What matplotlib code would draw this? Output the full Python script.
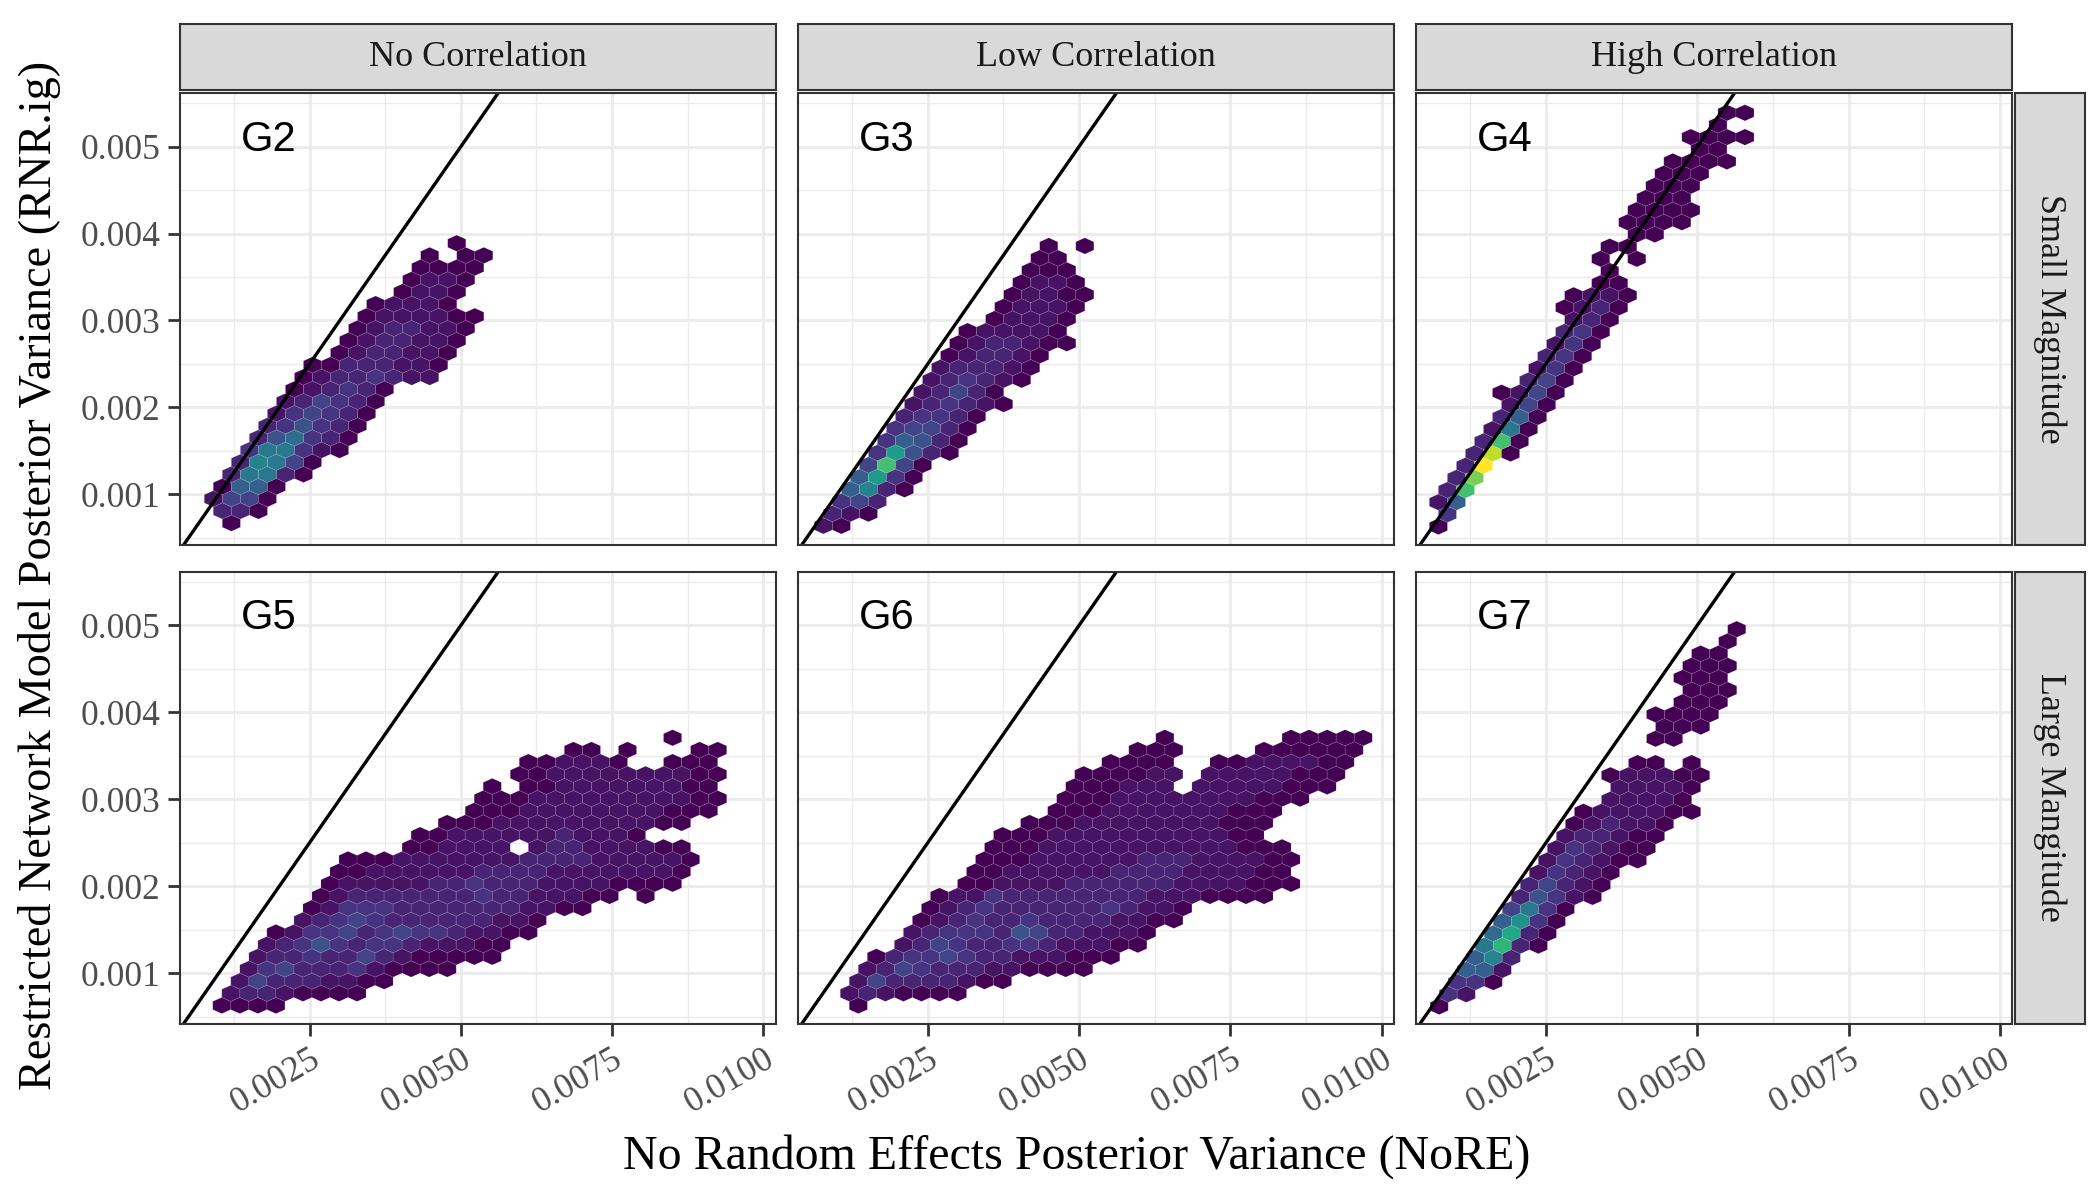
import numpy as np
import matplotlib
matplotlib.use("Agg")
import matplotlib.pyplot as plt

plt.rcParams["font.family"] = ["Liberation Serif", "DejaVu Serif"]

# hex bins
# each row: (hex row, first column, bin levels) ; "." = empty bin
# a level character stands for a count on the shared fill scale
LEVELS = "0123456789abcdefghijk"

G2_ROWS = [
    (0, 3, "0"), (1, 2, "220"), (2, 2, "1440"), (3, 2, "0660"),
    (4, 3, "28820"), (5, 3, "29840"), (6, 4, "388310"), (7, 4, "257320"),
    (8, 5, "235320"), (9, 5, "134320"), (10, 6, "124320"), (11, 6, "012320"),
    (12, 7, "01223211"), (13, 7, "00222110"), (14, 9, "0122110"),
    (15, 9, "0122110"), (16, 10, "0122110"), (17, 10, "0111100"),
    (18, 11, "01110"), (19, 12, "0110"), (20, 13, "0110"), (21, 13, "0000"),
    (22, 14, "0.00"), (23, 15, "0"),
]

G3_ROWS = [
    (0, 1, "10"), (1, 1, "210"), (2, 2, "342"), (3, 2, "6920"),
    (4, 3, "6b30"), (5, 3, "4e40"), (6, 4, "3b520"), (7, 4, "36520"),
    (8, 5, "34420"), (9, 5, "23320"), (10, 6, "123210"), (11, 6, "12420"),
    (12, 7, "123210"), (13, 7, "122210"), (14, 8, "012210"),
    (15, 8, "0122100"), (16, 9, "011110"), (17, 10, "01110"),
    (18, 11, "01110"), (19, 11, "01100"), (20, 12, "0110"), (21, 12, "000"),
    (22, 13, "00"), (23, 13, "0.0"),
]

G4_ROWS = [
    (0, 0, "0"), (1, 0, "3"), (2, 0, "16"), (3, 0, "2e"), (4, 1, "2g"),
    (5, 1, "2k"), (6, 2, "2i0"), (7, 2, "2e0"), (8, 3, "180"), (9, 3, "260"),
    (10, 4, "140"), (11, 3, "0140"), (12, 5, "240"), (13, 5, "130"),
    (14, 6, "230"), (15, 6, "130"), (16, 7, "230"), (17, 7, "120"),
    (18, 7, "0120"), (19, 7, "0110"), (20, 9, "00"), (21, 9, "0"),
    (22, 9, "0.0"), (23, 9, "00"), (24, 11, "00"), (25, 10, "0000"),
    (26, 11, "0000"), (27, 11, "000"), (28, 12, "000"), (29, 12, "000"),
    (30, 13, "0000"), (31, 14, "00"), (32, 14, "0000"), (33, 15, "0"),
    (34, 16, "00"),
]

G5_ROWS = [
    (0, 2, "0000"), (1, 2, "12210000"), (2, 3, "142221100"),
    (3, 3, "134222310000"), (4, 4, "12232242100000"),
    (5, 4, "12353233211100"), (6, 5, "013342343321100"),
    (7, 6, "12343222222110"), (8, 7, "0133322222221100"),
    (9, 7, "01222222232211100.0"), (10, 8, "01111122322211110000"),
    (11, 8, "00111111222211111110"), (12, 9, "00011111112222111110"),
    (13, 12, "001111.122111100"), (14, 13, "0011111121110"),
    (15, 14, "00011111111100"), (16, 16, "00011111111000"),
    (17, 16, "00011111111100"), (18, 17, "0.00111111100"),
    (19, 18, "001111111100"), (20, 19, "001110..000"),
    (21, 21, "00.0...00"), (22, 27, "0"),
]

G6_ROWS = [
    (0, 3, "0"), (1, 2, "1210000"), (2, 3, "142222100"),
    (3, 3, "1243222110000"), (4, 4, "02334322111000"),
    (5, 5, "12432233211100"), (6, 6, "12333254221110"),
    (7, 6, "012322322221100"), (8, 7, "012322222232110"),
    (9, 7, "0113222222221110000"), (10, 9, "0011112222221111000"),
    (11, 9, "001111112222111100"), (12, 10, "000111111222111100"),
    (13, 10, "00011111111111000"), (14, 11, "000111111111100"),
    (15, 12, "00011111111000"), (16, 14, "0001111111000"),
    (17, 14, "00011111111000"), (18, 15, "000111.11111000"),
    (19, 15, "000011.11111000"), (20, 17, "0000..00111100"),
    (21, 18, "000....000000"), (22, 20, "0......00000"),
]

G7_ROWS = [
    (0, 1, "0"), (1, 1, "31"), (2, 2, "330"), (3, 2, "661"), (4, 3, "692"),
    (5, 3, "8d20"), (6, 4, "7c20"), (7, 4, "6a30"), (8, 5, "4830"),
    (9, 5, "25310"), (10, 6, "24210"), (11, 6, "13210"), (12, 7, "132100"),
    (13, 7, "132100"), (14, 8, "122100"), (15, 8, "012110"),
    (16, 9, "0111100"), (17, 10, "11110"), (18, 11, "11110"),
    (19, 10, "011100"), (20, 12, "00.0"), (22, 13, "00"), (23, 13, "000"),
    (24, 13, "0000"), (25, 14, "000"), (26, 15, "000"), (27, 14, "000"),
    (28, 15, "000"), (29, 15, "00"), (30, 17, "0"), (31, 17, "0"),
]

# bin lattice of every panel: x of column 0 (even rows), y of row 0
G2_ORIGIN = (0.000313, 0.000668)
G3_ORIGIN = (0.000476, 0.000637)
G4_ORIGIN = (0.000722, 0.000629)
G5_ORIGIN = (0.000453, 0.000627)
G6_ORIGIN = (0.000458, 0.000627)
G7_ORIGIN = (0.000437, 0.000616)

HEX_DX = 0.000298   # bin width
HEX_DY = 0.00014    # distance between bin rows

COL_LABELS = ["No Correlation", "Low Correlation", "High Correlation"]
ROW_LABELS = ["Small Magnitude", "Large Mangitude"]
X_TICKS = [0.0025, 0.005, 0.0075, 0.01]
X_TICK_LABELS = ["0.0025", "0.0050", "0.0075", "0.0100"]
Y_TICKS = [0.001, 0.002, 0.003, 0.004, 0.005]
Y_TICK_LABELS = ["0.001", "0.002", "0.003", "0.004", "0.005"]

XLIM = (0.00035, 0.0102)
YLIM = (0.00042, 0.00562)

PANELS = [
    ("G2", G2_ROWS, G2_ORIGIN), ("G3", G3_ROWS, G3_ORIGIN), ("G4", G4_ROWS, G4_ORIGIN),
    ("G5", G5_ROWS, G5_ORIGIN), ("G6", G6_ROWS, G6_ORIGIN), ("G7", G7_ROWS, G7_ORIGIN),
]

W, H = 2100, 1200
PANEL_LEFT = [179.5, 797.7, 1415.9]
PANEL_TOP = [92.7, 571.5]
PANEL_W, PANEL_H = 596, 452

GRID = "#ebebeb"
DARK = "#333333"


def box(left, top, width, height):
    # pixel box -> figure fraction
    return [left / W, 1 - (top + height) / H, width / W, height / H]


def hex_points(rows, origin):
    x0, y0 = origin
    xs, ys, counts = [], [], []
    for k, c0, cells in rows:
        for j, ch in enumerate(cells):
            if ch == ".":
                continue
            xs.append(x0 + (c0 + j + 0.5 * (k % 2)) * HEX_DX)
            ys.append(y0 + k * HEX_DY)
            counts.append(LEVELS.index(ch) * 10 + 1)
    return xs, ys, counts


fig = plt.figure(figsize=(21, 12), dpi=100)

for i, (name, rows, origin) in enumerate(PANELS):
    r, c = divmod(i, 3)
    ax = fig.add_axes(box(PANEL_LEFT[c], PANEL_TOP[r], PANEL_W, PANEL_H))
    ax.set_axisbelow(True)

    xs, ys, counts = hex_points(rows, origin)
    xmin = origin[0] - 2 * HEX_DX
    ymin = origin[1] - 2 * HEX_DY
    ax.hexbin(xs, ys, C=counts, reduce_C_function=np.sum, gridsize=(40, 20),
              extent=(xmin, xmin + 40 * HEX_DX, ymin, ymin + 40 * HEX_DY),
              cmap="viridis", vmin=1, vmax=201,
              edgecolors=(1, 1, 1, 0.1), linewidths=0.6, zorder=2)

    ax.axline((0, 0), slope=1, color="black", lw=2.4, zorder=3)
    ax.text(0.00182, 0.00508, name, fontsize=30, ha="center", va="center",
            family=["Liberation Sans", "DejaVu Sans"], zorder=4)

    ax.set_xlim(XLIM)
    ax.set_ylim(YLIM)
    ax.set_xticks(X_TICKS)
    ax.set_xticks([0.00125, 0.00375, 0.00625, 0.00875], minor=True)
    ax.set_yticks(Y_TICKS)
    ax.set_yticks([0.0005, 0.0015, 0.0025, 0.0035, 0.0045, 0.0055], minor=True)
    ax.grid(which="major", color=GRID, lw=2.0)
    ax.grid(which="minor", color=GRID, lw=1.0)
    ax.tick_params(which="minor", length=0)
    ax.tick_params(which="major", length=8.4, width=2.0, color=DARK,
                   labelsize=25.5, labelcolor="#4d4d4d", pad=5.5)
    for sp in ax.spines.values():
        sp.set_color(DARK)
        sp.set_linewidth(1.5)
        sp.set_zorder(5)

    if r == 1:
        ax.set_xticklabels(X_TICK_LABELS, rotation=30, ha="right", va="top",
                           rotation_mode="anchor")
    else:
        ax.tick_params(axis="x", bottom=False, labelbottom=False)
    if c == 0:
        ax.set_yticklabels(Y_TICK_LABELS)
    else:
        ax.tick_params(axis="y", left=False, labelleft=False)

# facet strips
for c, label in enumerate(COL_LABELS):
    s = fig.add_axes(box(PANEL_LEFT[c], 24, PANEL_W, 66))
    s.set_facecolor("#d9d9d9")
    s.set_xticks([])
    s.set_yticks([])
    for sp in s.spines.values():
        sp.set_color(DARK)
        sp.set_linewidth(1.5)
    s.text(0.5, 0.5, label, ha="center", va="center", fontsize=26,
           color="#1a1a1a", transform=s.transAxes)

for r, label in enumerate(ROW_LABELS):
    s = fig.add_axes(box(2015, PANEL_TOP[r], 70, PANEL_H))
    s.set_facecolor("#d9d9d9")
    s.set_xticks([])
    s.set_yticks([])
    for sp in s.spines.values():
        sp.set_color(DARK)
        sp.set_linewidth(1.5)
    s.text(0.5, 0.5, label, ha="center", va="center", fontsize=26,
           rotation=-90, color="#1a1a1a", transform=s.transAxes)

fig.text(1077 / W, 1 - 1157 / H, "No Random Effects Posterior Variance (NoRE)",
         ha="center", va="center", fontsize=34.5)
fig.text(40 / W, 1 - 575 / H, "Restricted Network Model Posterior Variance (RNR.ig)",
         ha="center", va="center", fontsize=33.3, rotation=90)

fig.savefig("out.png", dpi=100, facecolor="white")
